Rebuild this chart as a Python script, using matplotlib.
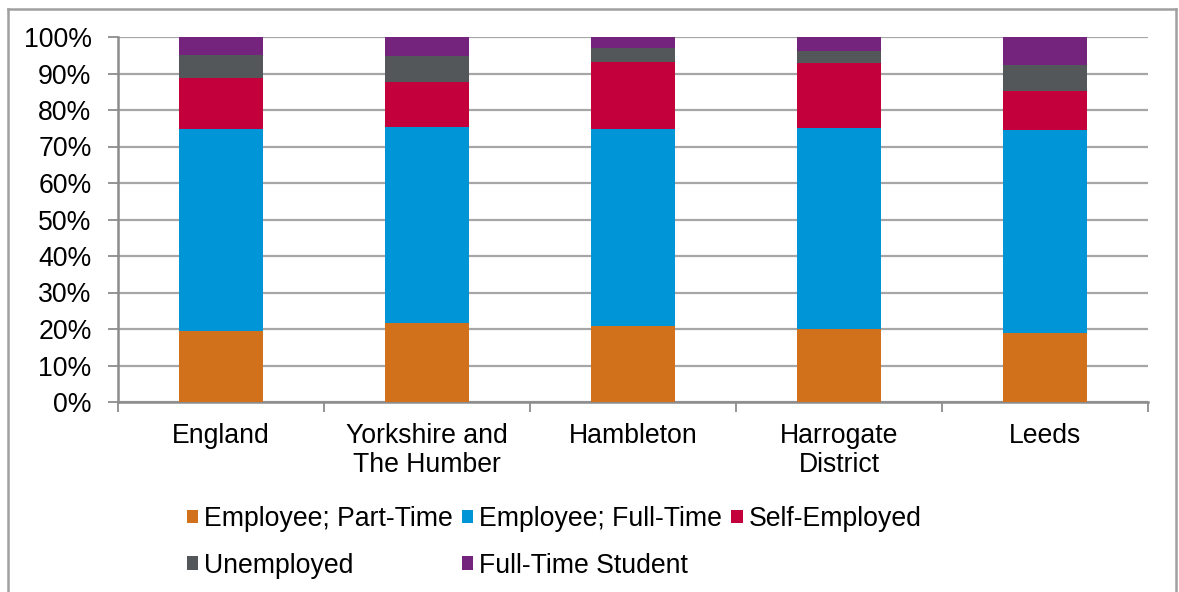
import matplotlib
matplotlib.use("Agg")
import matplotlib.pyplot as plt
import numpy as np
from matplotlib.patches import Patch
from matplotlib.lines import Line2D
from matplotlib.ticker import PercentFormatter, FixedLocator

plt.rcParams['font.family'] = ['Liberation Sans', 'DejaVu Sans']

categories = ["England", "Yorkshire and\nThe Humber", "Hambleton", "Harrogate\nDistrict", "Leeds"]
series_names = ["Employee; Part-Time", "Employee; Full-Time", "Self-Employed", "Unemployed", "Full-Time Student"]
part_time = [19.5, 21.6, 20.9, 20.0, 18.9]
full_time = [55.2, 53.8, 53.8, 55.0, 55.6]
self_employed = [14.1, 12.4, 18.5, 17.8, 10.8]
unemployed = [6.2, 7.0, 3.7, 3.5, 7.0]
student = [5.0, 5.2, 3.1, 3.7, 7.7]
colors = ["#D2711C", "#0095D6", "#C3003B", "#54575A", "#74247C"]

series = [part_time, full_time, self_employed, unemployed, student]

FS = 19.2

fig = plt.figure(figsize=(11.79, 5.92), dpi=100)
ax = fig.add_axes([118/1179, 1-402/592, (1148-118)/1179, (402-37)/592])

x = np.arange(len(categories))
bottom = np.zeros(len(categories))
handles = []
for name, vals, c in zip(series_names, series, colors):
    v = np.array(vals)
    ax.bar(x, v, bottom=bottom, width=0.41, color=c, zorder=3, label=name)
    bottom += v
    handles.append(Patch(facecolor=c, edgecolor='none', label=name))

ax.set_xlim(-0.5, len(categories)-0.5)
ax.set_ylim(0, 100)
ax.yaxis.set_major_locator(FixedLocator(np.arange(0, 101, 10)))
ax.yaxis.set_major_formatter(PercentFormatter(decimals=0))
ax.grid(axis='y', color='#A6A6A6', linewidth=1.6, zorder=0)
ax.set_axisbelow(True)

ax.set_xticks(x)
ax.set_xticklabels(categories, fontsize=FS, linespacing=1.15)
ax.set_xticks(np.arange(len(categories)+1)-0.5, minor=True)
ax.tick_params(axis='x', which='major', length=0, pad=15)
ax.tick_params(axis='x', which='minor', length=7, color='#8C8C8C', width=1.3)
ax.tick_params(axis='y', length=7, color='#8C8C8C', width=1.3, labelsize=FS, pad=12)

for s in ['top', 'right']:
    ax.spines[s].set_visible(False)
ax.spines['left'].set_color('#8C8C8C')
ax.spines['left'].set_linewidth(1.8)
ax.spines['bottom'].set_color('#8C8C8C')
ax.spines['bottom'].set_linewidth(1.8)

order = [0, 3, 1, 4, 2]
leg = fig.legend([handles[i] for i in order], [series_names[i] for i in order],
                 ncol=3, loc='upper left', bbox_to_anchor=(187/1179, 1-506/592),
                 frameon=False, fontsize=FS, handlelength=0.42, handleheight=0.42,
                 handletextpad=0.22, columnspacing=0.35, labelspacing=0.78,
                 borderpad=0, borderaxespad=0)

# outer frame
fig.add_artist(Line2D([8/1179, 8/1179], [0, 1-9/592], transform=fig.transFigure, color='#A0A0A0', lw=1.8))
fig.add_artist(Line2D([8/1179, 1176/1179], [1-9/592, 1-9/592], transform=fig.transFigure, color='#A0A0A0', lw=1.8))
fig.add_artist(Line2D([1176/1179, 1176/1179], [0, 1-9/592], transform=fig.transFigure, color='#A0A0A0', lw=1.8))

fig.savefig("out.png", dpi=100)
